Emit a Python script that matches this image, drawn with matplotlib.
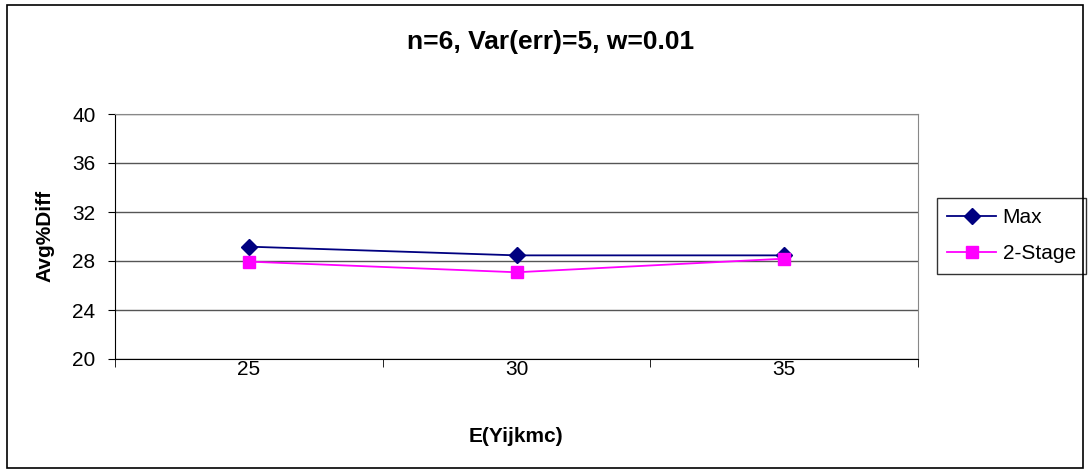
import matplotlib
matplotlib.use("Agg")
import matplotlib.pyplot as plt
from matplotlib.patches import Rectangle

plt.rcParams['font.family'] = ['Liberation Sans', 'DejaVu Sans']

categories = ["25", "30", "35"]
max_vals = [29.17, 28.46, 28.46]
stage2_vals = [27.95, 27.08, 28.19]
yticks = [20, 24, 28, 32, 36, 40]

W, H = 1091, 476
fig = plt.figure(figsize=(W/100, H/100), dpi=100)
ax = fig.add_axes([115/W, 1 - 359/H, (918-115)/W, (359-114)/H])

x = list(range(len(categories)))
ax.plot(x, max_vals, color='#000080', marker='D', markersize=8.5, linewidth=1.3, label='Max', clip_on=False, zorder=3)
ax.plot(x, stage2_vals, color='#FF00FF', marker='s', markersize=8.5, linewidth=1.3, label='2-Stage', clip_on=False, zorder=3)

ax.set_xlim(-0.5, len(categories) - 0.5)
ax.set_ylim(20, 40)
ax.set_yticks(yticks)
ax.set_yticklabels([str(v) for v in yticks], fontsize=15)
ax.set_xticks(x)
ax.set_xticklabels(categories, fontsize=15)
ax.set_xticks([-0.5, 0.5, 1.5, 2.5], minor=True)
ax.tick_params(axis='x', which='major', length=0, pad=1)
ax.tick_params(axis='x', which='minor', length=6, direction='out', color='black')
ax.tick_params(axis='y', length=5, direction='out', color='black', pad=9)
ax.yaxis.grid(True, color='#555555', linewidth=1)
ax.set_axisbelow(True)
for s in ['top', 'right']:
    ax.spines[s].set_color('#888888')
for s in ['left', 'bottom']:
    ax.spines[s].set_color('black')

fig.text(516/W, 1 - 437/H, 'E(Yijkmc)', ha='center', va='center', fontsize=15, fontweight='bold')
fig.text(45/W, 1 - 236/H, 'Avg%Diff', ha='center', va='center', rotation=90, fontsize=15, fontweight='bold')
fig.text(551/W, 1 - 42/H, 'n=6, Var(err)=5, w=0.01', ha='center', va='center',
         fontsize=19, fontweight='bold')

leg = ax.legend(loc='upper left', bbox_to_anchor=((937-115)/(918-115), (359-198)/(359-114)),
                fontsize=15, frameon=True, fancybox=False, edgecolor='black',
                handlelength=2.35, borderpad=0.5, labelspacing=0.8, handletextpad=0.3,
                borderaxespad=0)
leg.get_frame().set_linewidth(1)

fig.patches.append(Rectangle((7/W, 1 - 468/H), (1083-7)/W, (468-5)/H,
                             transform=fig.transFigure, fill=False, edgecolor='black', linewidth=1.2))

fig.savefig('out.png', dpi=100)
